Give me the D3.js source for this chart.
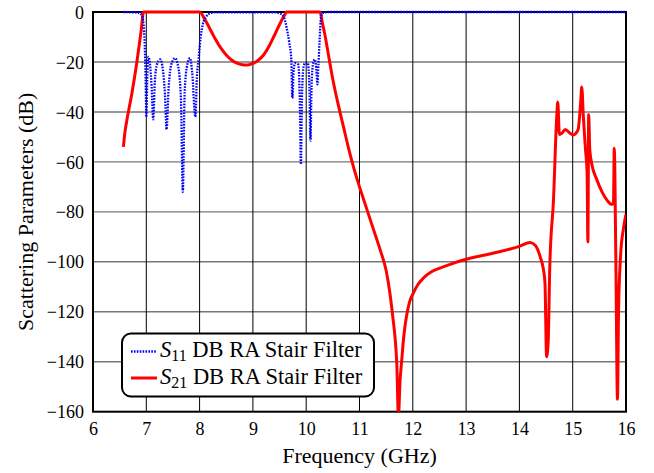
<!DOCTYPE html>
<html><head><meta charset="utf-8">
<script src="https://cdn.jsdelivr.net/npm/d3@7"></script>
<style>body{margin:0;background:#fff}svg{display:block}</style>
</head><body><div id="chart"></div>
<script>
const xTicks = [6,7,8,9,10,11,12,13,14,15,16];
const yTicks = [0,-20,-40,-60,-80,-100,-120,-140,-160];

const s11Freq = [6.57,6.85,6.92,6.96,6.99,7.0,7.02,7.04,7.07,7.1,7.13,7.16,7.2,7.26,7.31,7.35,7.38,7.42,7.47,7.54,7.6,7.65,7.685,7.72,7.77,7.82,7.86,7.92,7.95,7.98,8.02,8.06,8.12,8.2,8.3,9.4,9.5,9.58,9.63,9.68,9.72,9.74,9.765,9.79,9.85,9.88,9.9,9.92,9.95,9.98,10.03,10.06,10.08,10.1,10.13,10.16,10.19,10.21,10.23,10.25,10.27,10.3,10.4,16.0];
const s11dB   = [0,-0.3,-1.5,-8,-30,-42,-25,-18,-21,-30,-43,-28,-21,-19,-23,-33,-47,-30,-21,-18.5,-22,-35,-72,-32,-21,-18.5,-24,-42,-26,-19,-10,-5,-2,-0.5,-0.1,-0.1,-0.5,-2,-6,-12,-19,-34.5,-23,-20.5,-21,-35,-61,-35,-22,-20.5,-20.5,-30,-51.5,-30,-20.5,-19,-23,-29,-21,-12,-4,-0.5,0,0];

const s21Freq = [6.57,6.6,6.63,6.73,6.82,6.9,6.95,8.0,8.1,8.2,8.3,8.4,8.5,8.6,8.7,8.8,8.9,9.0,9.1,9.2,9.3,9.4,9.5,9.6,9.63,10.26,10.3,10.35,10.4,10.5,10.6,10.7,10.8,10.9,11.0,11.1,11.2,11.3,11.4,11.5,11.57,11.63,11.67,11.7,11.73,11.76,11.79,11.83,11.88,11.94,12.01,12.1,12.2,12.35,12.51,12.7,13.0,13.3,13.64,14.0,14.2,14.3,14.39,14.45,14.48,14.51,14.54,14.57,14.64,14.7,14.72,14.75,14.8,14.86,14.95,15.01,15.1,15.15,15.17,15.2,15.24,15.27,15.285,15.3,15.32,15.36,15.45,15.55,15.65,15.73,15.765,15.78,15.81,15.84,15.86,15.9,15.95,16.0];
const s21dB   = [-54,-48,-44,-32.5,-20.5,-8,0,0,-3,-7,-11,-14.5,-17.2,-19.2,-20.5,-21.1,-21.2,-20.6,-19.3,-17.2,-13.8,-9.5,-5,-1,0,0,-4,-9,-15,-27,-37,-46,-55,-63,-70,-76.5,-83,-89.5,-96,-103.5,-112.5,-123,-131,-141,-162,-148,-140,-130,-122,-116,-112.5,-109,-106.5,-104,-102.5,-101,-99,-97.5,-95.9,-93.8,-92.3,-93.5,-98,-103,-108.5,-138,-132,-102,-75,-42,-36,-49,-48.5,-47,-48.5,-49.2,-47.2,-36,-30,-42,-55,-64,-92,-41,-55,-61,-67,-72,-75.5,-77,-76.5,-54.5,-100,-155,-120,-97,-87,-81];

const FONT = "Liberation Serif";
const W = 654, H = 473;
const m = {left:93, right:626, top:12, bottom:411.7};
const svg = d3.select("#chart").append("svg").attr("width",W).attr("height",H);
const x = d3.scaleLinear().domain([6,16]).range([m.left,m.right]);
const y = d3.scaleLinear().domain([-160,0]).range([m.bottom,m.top]);

svg.append("defs").append("clipPath").attr("id","clip").append("rect")
  .attr("x",m.left).attr("y",m.top-3).attr("width",m.right-m.left).attr("height",m.bottom-m.top+3);

// grid
svg.append("g").selectAll("line").data(yTicks.slice(1,-1)).join("line")
  .attr("x1",m.left).attr("x2",m.right).attr("y1",d=>y(d)).attr("y2",d=>y(d))
  .attr("stroke","#777").attr("stroke-width",1.4);
svg.append("g").selectAll("line").data(xTicks.slice(1,-1)).join("line")
  .attr("y1",m.top).attr("y2",m.bottom).attr("x1",d=>x(d)).attr("x2",d=>x(d))
  .attr("stroke","#000").attr("stroke-width",1);

// axes labels
const yAxis = d3.axisLeft(y).tickValues(yTicks).tickSize(0).tickPadding(9).tickFormat(d3.format("d"));
const gy = svg.append("g").attr("transform",`translate(${m.left},0)`).call(yAxis);
gy.select(".domain").remove();
gy.selectAll("text").attr("fill","#000").attr("dy","0.34em")
  .style("font-family",FONT).style("font-size","18px");
const xAxis = d3.axisBottom(x).tickValues(xTicks).tickSize(0).tickPadding(11).tickFormat(d3.format("d"));
const gx = svg.append("g").attr("transform",`translate(0,${m.bottom})`).call(xAxis);
gx.select(".domain").remove();
gx.selectAll("text").attr("fill","#000").style("font-family",FONT).style("font-size","18px");

// frame
svg.append("rect").attr("x",m.left).attr("y",m.top).attr("width",m.right-m.left).attr("height",m.bottom-m.top)
  .attr("fill","none").attr("stroke","#000").attr("stroke-width",2);

const plot = svg.append("g").attr("clip-path","url(#clip)");
const s21 = s21Freq.map((f,i)=>[f,s21dB[i]]);
const s11 = s11Freq.map((f,i)=>[f,s11dB[i]]);
const line = d3.line().x(d=>x(d[0])).y(d=>y(d[1])).curve(d3.curveMonotoneX);

plot.append("path").datum(s21).attr("d",line).attr("fill","none")
  .attr("stroke","#ff0000").attr("stroke-width",3).attr("stroke-linejoin","round");
plot.append("path").datum(s11).attr("d",line).attr("fill","none")
  .attr("stroke","#0000ff").attr("stroke-width",2.3).attr("stroke-dasharray","1.6,1.3");

// titles
svg.append("text").attr("x",(m.left+m.right)/2).attr("y",462.5).attr("text-anchor","middle")
  .style("font-family",FONT).style("font-size","22px").text("Frequency (GHz)");
svg.append("text").attr("transform",`translate(33,${(m.top+m.bottom)/2}) rotate(-90)`).attr("text-anchor","middle")
  .style("font-family",FONT).style("font-size","22px").text("Scattering Parameters (dB)");

// legend
const lg = svg.append("g");
lg.append("rect").attr("x",122).attr("y",333.5).attr("width",252).attr("height",63).attr("rx",9)
  .attr("fill","#fff").attr("stroke","#000").attr("stroke-width",2);
const items = [
  {sub:"11", color:"#0000ff", dash:"1.6,1.3", w:2.3, yy:351.5, base:357.3},
  {sub:"21", color:"#ff0000", dash:null, w:3, yy:378, base:383.5}
];
items.forEach(it=>{
  const l = lg.append("line").attr("x1",131).attr("x2",157).attr("y1",it.yy).attr("y2",it.yy)
    .attr("stroke",it.color).attr("stroke-width",it.w);
  if(it.dash) l.attr("stroke-dasharray",it.dash);
  const t = lg.append("text").attr("x",160).attr("y",it.base)
    .style("font-family",FONT).style("font-size","22.5px");
  t.append("tspan").style("font-style","italic").text("S");
  t.append("tspan").attr("dy",4).style("font-size","16px").text(it.sub);
  t.append("tspan").attr("dy",-4).text(" DB RA Stair Filter");
});
</script></body></html>
